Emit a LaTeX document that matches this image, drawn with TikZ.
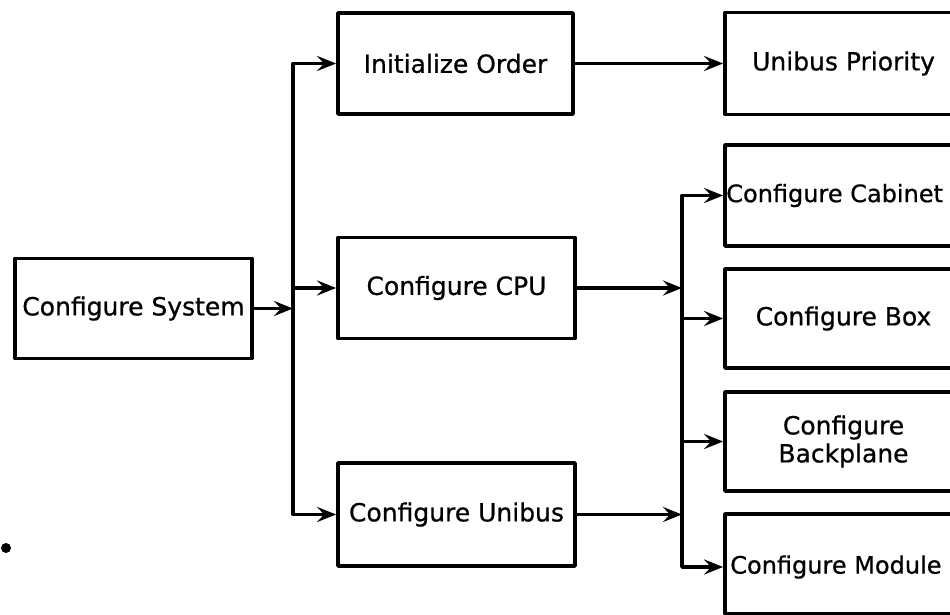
\documentclass[tikz,border=0pt]{standalone}
\usepackage{fontspec}
\setmainfont{DejaVu Sans}
\newfontfamily\diagfont{DejaVu Sans}[FakeBold=0.7]
\usetikzlibrary{arrows.meta}
\begin{document}
\begin{tikzpicture}[x=1pt,y=-1pt,
  blk/.style={draw, line width=3.8pt, minimum width=237pt, minimum height=100pt, inner sep=0pt,
    font=\diagfont\fontsize{25}{28}\selectfont, align=center, line join=round},
  lbl/.style={inner sep=0pt, font=\diagfont\fontsize{24}{28}\selectfont},
  wire/.style={line width=3.6pt, line join=round},
  arr/.style={wire, -{Stealth[length=19pt,width=15pt,inset=7pt]}}]
\useasboundingbox (0,0) rectangle (950,615);
\clip (0,0) rectangle (950,615);
\fill[white] (0,0) rectangle (950,615);
% left column
\node[blk] (sys) at (133.5,308.5) {Configure System};
% middle column
\node[blk, minimum width=235pt, minimum height=101pt] (io) at (455.5,63.5) {Initialize Order};
\node[blk, minimum height=101pt] (cpu) at (456.5,288) {Configure CPU};
\node[blk, minimum height=103pt] (cu) at (456.5,514.5) {Configure Unibus};
% right column
\node[blk, minimum height=102pt] (pri) at (843.5,63.5) {Unibus Priority};
\node[blk, minimum height=101pt] (cab) at (843.5,195.5) {};
\node[lbl, anchor=west] (cabt) at ([xshift=3pt]cab.west) {Configure Cabinet};
\node[blk, minimum height=99pt] (box) at (843.5,318.5) {Configure Box};
\node[blk, minimum height=99pt] (bp) at (843.5,441.5) {Configure\\Backplane};
\node[blk, minimum height=100pt] (mod) at (843.5,564) {};
\node[lbl, anchor=west] (modt) at ([xshift=7pt,yshift=-3pt]mod.west) {Configure Module};
% bus positions
\coordinate (bx) at (293,0);
\coordinate (rx) at (682,0);
% left bus
\draw[arr] (sys.east) -- (sys.east -| bx);
\draw[arr] (cpu.west -| bx) -- (io.west -| bx) -- (io.west);
\draw[arr] (cpu.west -| bx) -- (cu.west -| bx) -- (cu.west);
\draw[arr] (cpu.west -| bx) -- (cpu.west);
% top row
\draw[arr] (io.east) -- (pri.west);
% right bus
\draw[arr] (cpu.east) -- (cpu.east -| rx);
\draw[arr] (cu.east) -- (cu.east -| rx);
\draw[arr] (box.west -| rx) -- (cab.west -| rx) -- (cab.west);
\draw[arr] (box.west -| rx) -- ([yshift=-3pt]mod.west -| rx) -- ([yshift=-3pt]mod.west);
\draw[arr] (box.west -| rx) -- (box.west);
\draw[arr] (bp.west -| rx) -- (bp.west);
% scan mark
\fill (6,548) circle (5pt);
\end{tikzpicture}
\end{document}
